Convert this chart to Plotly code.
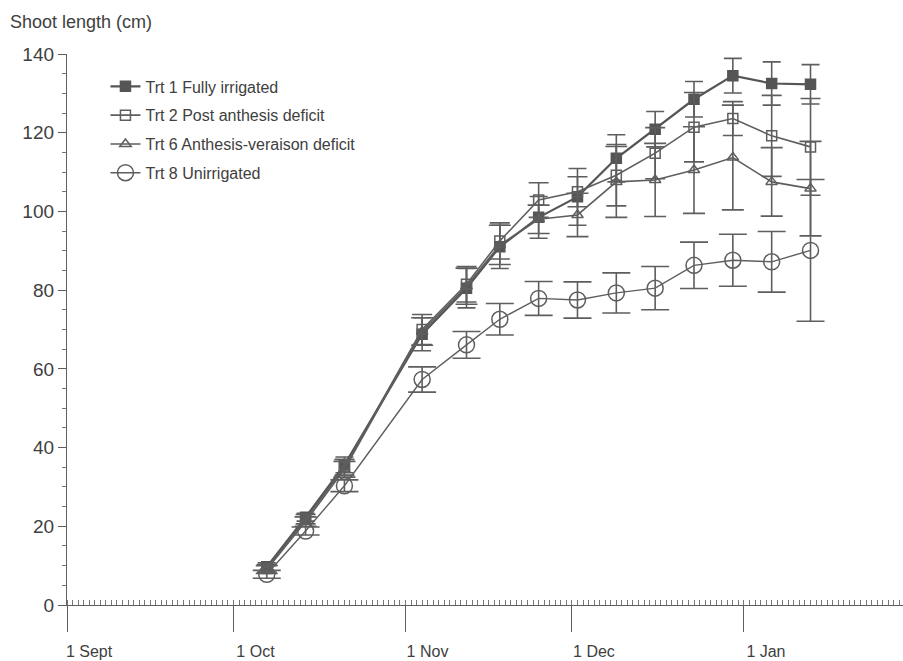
import plotly.graph_objects as go

# ---- data ----
dates = ["2000-10-07", "2000-10-14", "2000-10-21", "2000-11-04", "2000-11-12",
         "2000-11-18", "2000-11-25", "2000-12-02", "2000-12-09", "2000-12-16",
         "2000-12-23", "2000-12-30", "2001-01-06", "2001-01-13"]

trt1 = [9.7, 22.3, 35.6, 68.8, 80.5, 91.0, 98.5, 103.7, 113.5, 120.9, 128.5, 134.5, 132.5, 132.3]
trt1_err = [1.0, 1.0, 2.0, 4.2, 5.0, 5.5, 5.3, 7.2, 6.0, 4.5, 4.5, 4.4, 5.5, 5.0]

trt2 = [9.3, 21.8, 35.0, 70.0, 81.5, 92.5, 102.9, 105.0, 109.2, 114.8, 121.4, 123.6, 119.2, 116.4]
trt2_err = [1.0, 1.2, 2.0, 3.8, 4.5, 4.6, 4.4, 3.8, 7.8, 6.5, 8.8, 4.3, 10.3, 12.3]

trt6 = [9.0, 21.2, 34.5, 69.5, 81.0, 91.5, 98.0, 99.1, 107.5, 108.0, 110.5, 113.7, 107.5, 105.8]
trt6_err = [1.0, 1.2, 2.0, 3.5, 4.6, 5.0, 3.6, 5.5, 9.0, 9.3, 11.0, 13.3, 8.7, 12.0]

trt8 = [7.8, 18.8, 30.3, 57.3, 66.1, 72.6, 77.9, 77.5, 79.3, 80.5, 86.3, 87.6, 87.2, 90.1]
trt8_err = [1.0, 1.0, 1.5, 3.2, 3.4, 4.0, 4.3, 4.6, 5.1, 5.5, 5.9, 6.6, 7.7, 18.0]

series_names = ["Trt 1 Fully irrigated", "Trt 2 Post anthesis deficit",
                "Trt 6 Anthesis-veraison deficit", "Trt 8 Unirrigated"]

tick_dates = ["2000-09-01", "2000-10-01", "2000-11-01", "2000-12-01", "2001-01-01"]
tick_labels = ["1 Sept", "1 Oct", "1 Nov", "1 Dec", "1 Jan"]

y_title = "Shoot length (cm)"

# ---- styling ----
FONT = "Liberation Sans, Arial, sans-serif"
INK = "#404040"
LINE = "#5e5e5e"

styles = [
    dict(symbol="square", size=10, color="#555555", lw=2.2, cap=9),
    dict(symbol="square-open", size=10, color=LINE, lw=1.6, cap=10),
    dict(symbol="triangle-up-open", size=10, color=LINE, lw=1.6, cap=11),
    dict(symbol="circle-open", size=16, color=LINE, lw=1.4, cap=14),
]

fig = go.Figure()
for name, ys, es, st in zip(series_names, [trt1, trt2, trt6, trt8],
                            [trt1_err, trt2_err, trt6_err, trt8_err], styles):
    fig.add_trace(go.Scatter(
        x=dates, y=ys, name=name, mode="lines+markers",
        legendgroup=name,
        line=dict(color=st["color"], width=st["lw"]),
        marker=dict(symbol=st["symbol"], size=st["size"], color=st["color"],
                    line=dict(color=st["color"], width=1.5)),
        error_y=dict(type="data", array=es, visible=True, color=LINE,
                     thickness=1.6, width=st["cap"]),
    ))

fig.update_layout(
    width=903, height=661,
    margin=dict(l=67, r=0, t=54, b=56),
    paper_bgcolor="white", plot_bgcolor="white",
    font=dict(family=FONT, color=INK),
    showlegend=True,
    legend=dict(x=0.046, y=0.972, xanchor="left", yanchor="top",
                bgcolor="rgba(0,0,0,0)", font=dict(size=16, color=INK),
                tracegroupgap=5, traceorder="grouped"),
    title=dict(text=y_title, x=10 / 903, xanchor="left", xref="container",
               y=1 - 22 / 661, yanchor="middle", yref="container",
               font=dict(size=18, color=INK, family=FONT)),
    xaxis=dict(
        type="date", range=["2000-09-01", "2001-01-29 16:00"],
        tickmode="array", tickvals=tick_dates, ticktext=tick_labels,
        ticks="outside", ticklen=26, tickwidth=1.3, tickcolor=LINE,
        showline=True, linecolor=LINE, linewidth=1.3,
        showgrid=False, zeroline=False,
        tickfont=dict(size=16, color=INK, family=FONT),
        ticklabelshift=22, ticklabelstandoff=6,
        minor=dict(tickmode="linear", tick0="2000-09-01", dtick=86400000,
                   ticks="inside", ticklen=5, tickwidth=1, tickcolor="#777777",
                   showgrid=False),
    ),
    yaxis=dict(
        range=[0, 140], tickmode="linear", tick0=0, dtick=20,
        ticks="outside", ticklen=8, tickwidth=1.3, tickcolor=LINE,
        showline=True, linecolor=LINE, linewidth=1.3,
        showgrid=False, zeroline=False,
        tickfont=dict(size=19, color=INK, family=FONT),
        minor=dict(tickmode="linear", tick0=0, dtick=5, ticks="outside",
                   ticklen=4, tickwidth=1, tickcolor="#777777", showgrid=False),
    ),
)

fig.write_html("out.html")
